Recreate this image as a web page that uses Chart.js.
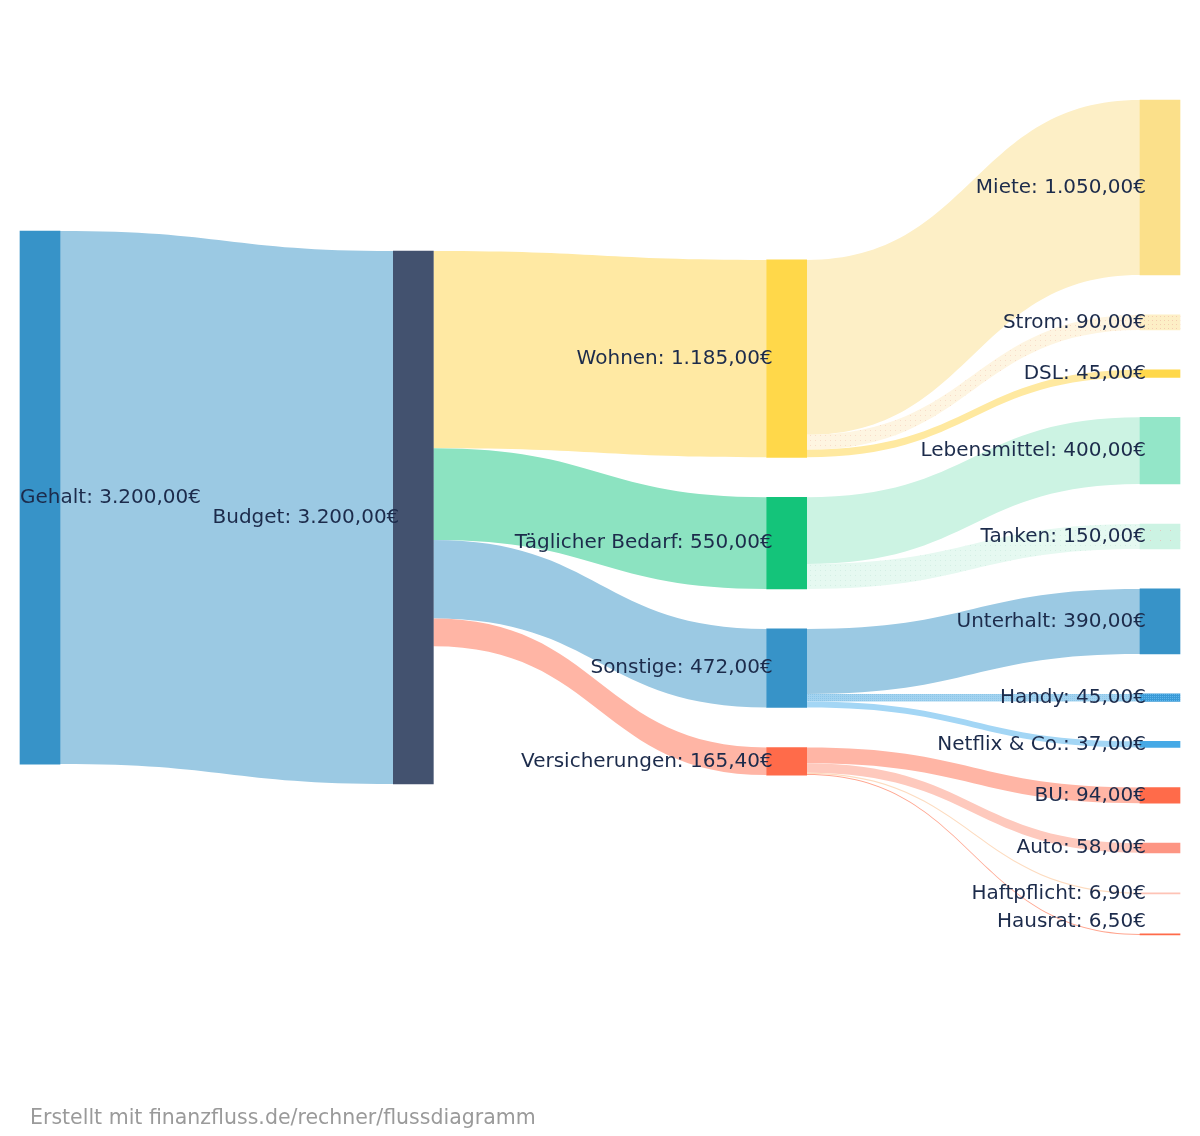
<!DOCTYPE html>
<html><head><meta charset="utf-8">
<script src="https://cdn.jsdelivr.net/npm/chart.js@4"></script>
<style>html,body{margin:0;padding:0;background:#fff}#wrap{width:1200px;height:1136px;position:relative}</style>
</head><body><div id="wrap"><canvas id="c" width="1200" height="1136"></canvas></div>
<script>
// ---- DATA ----
const nodeNames = ['Gehalt','Budget','Wohnen','Täglicher Bedarf','Sonstige','Versicherungen',
  'Miete','Strom','DSL','Lebensmittel','Tanken','Unterhalt','Handy','Netflix & Co.','BU','Auto','Haftpflicht','Hausrat'];
const linkSources = ['Gehalt','Budget','Budget','Budget','Budget',
  'Wohnen','Wohnen','Wohnen','Täglicher Bedarf','Täglicher Bedarf',
  'Sonstige','Sonstige','Sonstige','Versicherungen','Versicherungen','Versicherungen','Versicherungen'];
const linkTargets = ['Budget','Wohnen','Täglicher Bedarf','Sonstige','Versicherungen',
  'Miete','Strom','DSL','Lebensmittel','Tanken',
  'Unterhalt','Handy','Netflix & Co.','BU','Auto','Haftpflicht','Hausrat'];
const linkValues = [3200, 1185, 550, 472, 165.4,
  1050, 90, 45, 400, 150,
  390, 45, 37, 94, 58, 6.9, 6.5];
const footerText = 'Erstellt mit finanzfluss.de/rechner/flussdiagramm';

// ---- STYLE / LAYOUT SETTINGS ----
const nodePadding = 240;              // gap between nodes, value units
const columnShift = [-0.5, 0, 0, 0];  // column alignment, in multiples of nodePadding
const FONT = '"DejaVu Sans", sans-serif';
const pctx = document.createElement('canvas').getContext('2d');
function dots(base, dot, step, size){
  const c = document.createElement('canvas'); c.width = c.height = step;
  const g = c.getContext('2d'); g.fillStyle = base; g.fillRect(0,0,step,step);
  g.fillStyle = dot; g.fillRect(0,0,size||1,size||1);
  return pctx.createPattern(c,'repeat');
}
const nodeColors = {
  'Gehalt':'#3793c8','Budget':'#43526f','Wohnen':'#ffd84a','Täglicher Bedarf':'#14c47a','Sonstige':'#3793c8','Versicherungen':'#ff6b4a',
  'Miete':'#fbe08a','Strom':dots('#fdefc6','#f4cdb0',4),'DSL':'#ffd84a','Lebensmittel':'#93e6c8','Tanken':dots('#ccf3e3','#e3c7bf',10),
  'Unterhalt':'#3793c8','Handy':dots('#3a9ad6','#5fb6ec',2),'Netflix & Co.':'#45a9e6','BU':'#ff6b4a','Auto':'#fd9583','Haftpflicht':'#fec3b6','Hausrat':'#ff6b4a'
};
const linkColors = ['#9bc9e3','#ffe9a3','#8ce3c1','#9bc9e3','#ffb5a5',
  '#fdefc6', dots('#fef5e1','#f9dcc8',5), '#ffe9a0', '#ccf3e3', dots('#e6f9f1','#d3efe4',5),
  '#9bc9e3', dots('#a3d3f0','#8cc6e8',2), '#a3d6f5', '#ffb5a5', '#fec9bd', '#fddcc0', '#ffa58f'];

// ---- LAYOUT (value units) ----
const nodes = nodeNames.map(n => ({name:n, inV:0, outV:0, col:0, ins:[], outs:[]}));
const byName = Object.fromEntries(nodes.map(n => [n.name, n]));
const links = linkValues.map((v,i) => ({s:byName[linkSources[i]], t:byName[linkTargets[i]], v, color:linkColors[i]}));
links.forEach(l => { l.s.outV += l.v; l.t.inV += l.v; l.s.outs.push(l); l.t.ins.push(l); });
let changed = true;
while (changed) { changed = false; links.forEach(l => { if (l.t.col < l.s.col + 1) { l.t.col = l.s.col + 1; changed = true; } }); }
nodes.forEach(n => n.value = Math.max(n.inV, n.outV));
const nCols = Math.max(...nodes.map(n => n.col)) + 1;
const cols = Array.from({length:nCols}, (_,c) => nodes.filter(n => n.col === c));
const colH = cols.map(cn => cn.reduce((a,n) => a + n.value, 0) + (cn.length - 1) * nodePadding);
const H = Math.max(...colH);
cols.forEach((cn, c) => {
  let y = (H - colH[c]) / 2 + (columnShift[c] || 0) * nodePadding;
  cn.forEach(n => { n.y0 = y; n.y1 = y + n.value; y = n.y1 + nodePadding; });
});
nodes.forEach(n => {
  let y = n.y0; n.outs.forEach(l => { l.sy = y; y += l.v; });
  y = n.y0; n.ins.forEach(l => { l.ty = y; y += l.v; });
});

function fmt(v){
  const parts = v.toFixed(2).split('.');
  const int = parts[0].replace(/\B(?=(\d{3})+(?!\d))/g, '.');
  return int + ',' + parts[1] + '€';
}

const sankeyPlugin = {
  id:'sankey',
  beforeDatasetsDraw(chart){
    const {ctx, scales:{x, y}} = chart;
    const bars = chart.getDatasetMeta(0).data;
    const half = bars[0].width / 2;
    ctx.save();
    links.forEach(l => {
      const x0 = x.getPixelForValue(l.s.col) + half;
      const x1 = x.getPixelForValue(l.t.col) - half;
      const mx = (x0 + x1) / 2;
      const sT = y.getPixelForValue(l.sy), sB = y.getPixelForValue(l.sy + l.v);
      const tT = y.getPixelForValue(l.ty), tB = y.getPixelForValue(l.ty + l.v);
      ctx.beginPath();
      ctx.moveTo(x0, sT);
      ctx.bezierCurveTo(mx, sT, mx, tT, x1, tT);
      ctx.lineTo(x1, tB);
      ctx.bezierCurveTo(mx, tB, mx, sB, x0, sB);
      ctx.closePath();
      ctx.fillStyle = l.color;
      ctx.fill();
    });
    ctx.restore();
  },
  afterDatasetsDraw(chart){
    const {ctx, chartArea, scales:{x, y}} = chart;
    const bars = chart.getDatasetMeta(0).data;
    const half = bars[0].width / 2;
    ctx.save();
    ctx.font = '20px ' + FONT;
    ctx.fillStyle = '#1c2b4b';
    ctx.textBaseline = 'middle';
    nodes.forEach(n => {
      const left = x.getPixelForValue(n.col) - half;
      let cy = (y.getPixelForValue(n.y0) + y.getPixelForValue(n.y1)) / 2;
      cy = Math.min(Math.max(cy, chartArea.top + 13), chartArea.bottom - 13);
      const label = n.name + ': ' + fmt(n.value);
      if (n.col === 0) { ctx.textAlign = 'left'; ctx.fillText(label, left, cy); }
      else { ctx.textAlign = 'right'; ctx.fillText(label, left + 6, cy); }
    });
    ctx.restore();
  },
  afterDraw(chart){
    const ctx = chart.ctx;
    ctx.save();
    ctx.font = '20.5px ' + FONT;
    ctx.fillStyle = '#9a9a9a';
    ctx.textAlign = 'left';
    ctx.textBaseline = 'middle';
    ctx.fillText(footerText, 30, 1119);
    ctx.restore();
  }
};

new Chart(document.getElementById('c'), {
  type:'bar',
  data:{ datasets:[{
    data: nodes.map(n => ({x:n.col, y:[n.y0, n.y1]})),
    backgroundColor: nodes.map(n => nodeColors[n.name]),
    barThickness:40, borderWidth:0, grouped:false, clip:false
  }]},
  options:{
    responsive:false, animation:false, devicePixelRatio:1,
    layout:{padding:{left:40, right:40, top:100, bottom:201}},
    scales:{
      x:{type:'linear', min:0, max:nCols-1, offset:false, display:false},
      y:{type:'linear', reverse:true, min:0, max:H, display:false}
    },
    plugins:{legend:{display:false}, tooltip:{enabled:false}, title:{display:false}}
  },
  plugins:[sankeyPlugin]
});
</script></body></html>
